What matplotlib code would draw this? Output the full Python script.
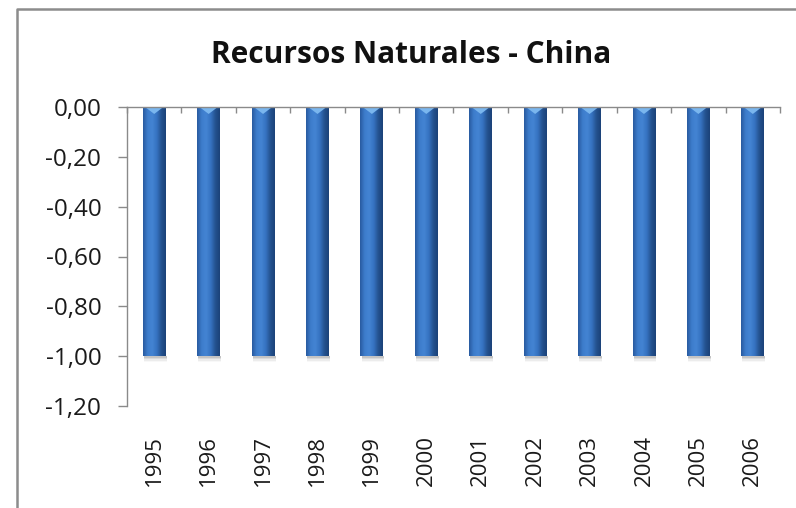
import matplotlib
matplotlib.use('Agg')
import matplotlib.pyplot as plt
import numpy as np
from matplotlib.colors import LinearSegmentedColormap
from matplotlib.patches import Polygon
from matplotlib.lines import Line2D
from matplotlib.ticker import FixedLocator, FuncFormatter

# ---- data ----
years = ['1995', '1996', '1997', '1998', '1999', '2000',
         '2001', '2002', '2003', '2004', '2005', '2006']
values = [-1.00, -1.00, -1.00, -1.00, -1.00, -1.00,
          -1.00, -1.00, -1.00, -1.00, -1.00, -1.00]
yticks = [0.00, -0.20, -0.40, -0.60, -0.80, -1.00, -1.20]
title = 'Recursos Naturales - China'

plt.rcParams['font.family'] = ['Open Sans', 'DejaVu Sans']

W, H = 796, 508
fig = plt.figure(figsize=(W / 100, H / 100), dpi=100)
fig.patch.set_facecolor('white')

ax = fig.add_axes([127 / W, (H - 406) / H, 653 / W, 299 / H])
x = np.arange(len(years))
bars = ax.bar(x, values, width=0.42, color='none', edgecolor='none', zorder=2)

cmap = LinearSegmentedColormap.from_list(
    'cyl', ['#28599E', '#3D7CCB', '#4484D3', '#3673C1', '#24528F', '#1B4178'])
grad = np.linspace(0, 1, 256).reshape(1, -1)
for b in bars:
    x0, w = b.get_x(), b.get_width()
    y0, h = b.get_y(), b.get_height()
    ylo, yhi = min(y0, y0 + h), max(y0, y0 + h)
    # soft shadow under bar
    for k, a in enumerate([0.22, 0.15, 0.09, 0.05]):
        ax.fill_between([x0 + 0.02, x0 + w + 0.02], ylo - 0.006 * (k + 1), ylo,
                        color='#7a7a7a', alpha=a, lw=0, zorder=1)
    ax.imshow(grad, cmap=cmap, extent=[x0, x0 + w, ylo, yhi],
              aspect='auto', zorder=2, interpolation='bicubic')
    tri = Polygon([(x0 + w * 0.1, yhi), (x0 + w * 0.9, yhi),
                   (x0 + w / 2, yhi - 0.028)], closed=True,
                  facecolor='#7AB6EE', edgecolor='none', zorder=3)
    ax.add_patch(tri)

ax.set_xlim(-0.5, len(years) - 0.5)
ax.set_ylim(min(yticks), max(yticks))

gray = '#8a8a8a'
for s in ['right', 'bottom']:
    ax.spines[s].set_visible(False)
for s in ['left', 'top']:
    ax.spines[s].set_color(gray)
    ax.spines[s].set_linewidth(1.0)
ax.spines['top'].set_zorder(4)

ax.set_yticks(yticks)
ax.yaxis.set_major_formatter(FuncFormatter(lambda v, p: f'{v:.2f}'.replace('.', ',')))
ax.tick_params(axis='y', direction='out', length=6.5, width=1, color=gray,
               pad=12, labelsize=17.5, labelcolor='#1a1a1a')

ax.set_xticks(x)
ax.set_xticklabels(years)
ax.xaxis.set_minor_locator(FixedLocator(np.arange(len(years) + 1) - 0.5))
ax.tick_params(axis='x', which='major', bottom=True, top=False, length=0,
               pad=21, labelsize=16, labelcolor='#1a1a1a', labelrotation=90)
ax.tick_params(axis='x', which='minor', bottom=False, top=True, direction='in',
               length=4.5, width=1, color=gray)

fig.text(411 / W, 1 - 63 / H, title, ha='center', va='baseline',
         fontsize=21.5, fontweight='bold', color='#111111')

# chart border (left and top edges visible)
fig.add_artist(Line2D([17 / W, 17 / W, 1.0], [0.0, 1 - 9 / H, 1 - 9 / H],
                      transform=fig.transFigure, color='#8c8c8c', lw=1.8))

fig.savefig('out.png', dpi=100, facecolor='white')
